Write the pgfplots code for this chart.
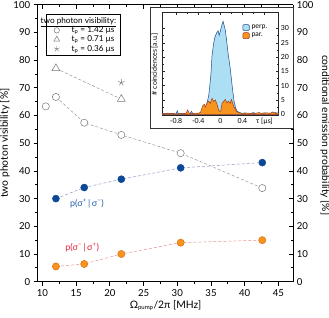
\documentclass[border=0pt]{standalone}
\usepackage{fontspec}
\setmainfont{Lato}
\usepackage{pgfplots}
\pgfplotsset{compat=1.18}
\definecolor{visgray}{RGB}{120,120,120}
\definecolor{visline}{RGB}{150,150,150}
\definecolor{dkblue}{RGB}{12,72,150}
\definecolor{blueline}{RGB}{140,150,200}
\definecolor{orng}{RGB}{247,148,30}
\definecolor{orngdark}{RGB}{225,110,20}
\definecolor{orngline}{RGB}{235,140,140}
\definecolor{lblue}{RGB}{172,222,244}
\definecolor{lblueline}{RGB}{30,75,135}
\definecolor{parline}{RGB}{160,60,30}
\definecolor{redlbl}{RGB}{222,35,60}
\definecolor{bluelbl}{RGB}{35,95,170}

\pgfplotstableread{
x y
10.5 63.3
}\visA
\pgfplotstableread{
x y
12.0 66.7
16.2 57.4
21.7 53.0
30.5 46.4
42.6 33.8
}\visB
\pgfplotstableread{
x y
12.0 77.0
21.7 65.9
}\visC
\pgfplotstableread{
x y
21.7 71.9
}\visD
\pgfplotstableread{
x y
12.0 30.0
16.2 34.0
21.7 37.0
30.5 41.1
42.6 43.0
}\pblue
\pgfplotstableread{
x y
12.0 5.5
16.2 6.4
21.7 10.0
30.5 14.1
42.6 15.0
}\porange

\pgfplotstableread{
t c
-1.05 0.3
-1.00 0.2
-0.95 0.4
-0.90 0.2
-0.85 0.3
-0.80 0.1
-0.78 1.2
-0.76 0.2
-0.70 0.3
-0.65 0.2
-0.60 0.4
-0.55 0.2
-0.52 1.0
-0.50 0.3
-0.45 0.2
-0.40 0.4
-0.35 0.5
-0.30 0.9
-0.27 1.7
-0.24 4.0
-0.21 6.5
-0.19 10.0
-0.17 14.0
-0.15 20.5
-0.12 24.8
-0.10 26.8
-0.07 28.3
-0.04 29.2
-0.02 27.6
0.00 29.0
0.02 30.6
0.05 32.5
0.07 31.0
0.09 29.5
0.11 26.5
0.14 21.5
0.18 16.0
0.22 9.0
0.25 4.5
0.28 2.0
0.31 1.0
0.35 0.6
0.40 0.3
0.45 0.5
0.50 0.2
0.55 0.3
0.60 0.6
0.65 0.2
0.70 0.4
0.75 0.3
0.80 0.5
0.85 0.2
0.90 0.4
0.95 0.3
1.00 0.6
1.05 0.3
}\perpdata
\pgfplotstableread{
t c
-1.05 0.2
-0.90 0.3
-0.80 0.1
-0.70 0.2
-0.62 0.3
-0.59 1.5
-0.56 0.3
-0.50 0.2
-0.45 0.4
-0.40 0.3
-0.36 0.6
-0.32 2.9
-0.29 3.5
-0.27 2.5
-0.24 4.0
-0.21 4.6
-0.18 3.8
-0.15 5.6
-0.12 4.5
-0.09 5.0
-0.06 3.5
-0.03 1.5
-0.01 1.0
0.01 1.2
0.03 3.8
0.06 4.5
0.09 5.2
0.12 4.0
0.15 4.6
0.18 3.8
0.20 5.2
0.22 4.2
0.24 2.9
0.27 1.8
0.29 1.1
0.33 0.5
0.40 0.3
0.50 0.4
0.60 0.2
0.70 0.6
0.75 0.3
0.85 0.5
0.90 0.3
0.95 0.8
1.00 0.3
1.05 0.4
}\pardata

\begin{document}
\begin{tikzpicture}
\useasboundingbox (-37.7pt,-35.3pt) rectangle (291.3pt,281.7pt);
\pgfplotsset{
  mainstyle/.style={
    scale only axis, width=255.6pt, height=277pt,
    xmin=9.3, xmax=47.2, ymin=0, ymax=100,
    xtick={10,15,...,45}, ytick={0,10,...,100},
    minor x tick num=1, minor y tick num=1,
    major tick length=4pt, minor tick length=2.2pt,
    axis line style={line width=0.9pt},
    every tick/.style={black, line width=0.8pt},
    ticklabel style={font=\fontsize{9.6}{10}\selectfont},
    label style={font=\fontsize{10.3}{11}\selectfont},
    /pgf/number format/assume math mode=true,
  }
}
\begin{axis}[mainstyle,
  axis x line*=bottom, axis y line*=left, tick align=outside,
  xlabel={Ω\textsubscript{\fontsize{6}{6}\selectfont pump}/2π [MHz]},
  ylabel={two photon visibility [\%]},
  xlabel style={yshift=3pt}, ylabel style={yshift=-3pt},
  legend style={at={(rel axis cs:0.032,0.965)}, anchor=north west,
    draw=black, line width=0.7pt, font=\fontsize{8.2}{9}\selectfont,
    inner xsep=2pt, inner ysep=0.5pt, row sep=-2.2pt},
  legend cell align=left,
]
\addlegendimage{empty legend}
\addlegendentry{\hspace*{-21pt}\underline{two photon visibility:}}
\addlegendimage{only marks, mark=o, mark size=2.7pt, visgray, mark options={line width=0.5pt}}
\addlegendentry{\hspace*{10pt}t\textsubscript{p} = 1.42 µs}
\addlegendimage{only marks, mark=triangle, mark size=3.4pt, visgray, mark options={line width=0.5pt}}
\addlegendentry{\hspace*{10pt}t\textsubscript{p} = 0.71 µs}
\addlegendimage{only marks, mark=star, mark size=2.9pt, visgray, mark options={line width=0.45pt}}
\addlegendentry{\hspace*{10pt}t\textsubscript{p} = 0.36 µs}

\addplot[forget plot, visline, densely dashed, line width=0.5pt, mark=*, mark size=3.6pt,
  mark options={solid, fill=white, draw=visgray, line width=0.5pt}] table {\visB};
\addplot[forget plot, only marks, mark=*, mark size=3.6pt,
  mark options={fill=white, draw=visgray, line width=0.5pt}] table {\visA};
\addplot[forget plot, visline, densely dashed, line width=0.5pt, mark=triangle*, mark size=4.6pt,
  mark options={solid, fill=white, draw=visgray, line width=0.5pt}] table {\visC};
\addplot[forget plot, only marks, mark=star, mark size=3.4pt,
  mark options={draw=visgray, line width=0.5pt}] table {\visD};
\addplot[forget plot, blueline, densely dashed, line width=0.5pt, mark=*, mark size=3.5pt,
  mark options={solid, fill=dkblue, draw=dkblue}] table {\pblue};
\addplot[forget plot, orngline, densely dashed, line width=0.5pt, mark=*, mark size=3.6pt,
  mark options={solid, fill=orng, draw=orngdark, line width=0.5pt}] table {\porange};
\node[bluelbl, font=\fontsize{9}{10}\selectfont] at (axis cs:16.6,28.2) {p(σ\textsuperscript{+}\,|\,σ\textsuperscript{−})};
\node[redlbl, font=\fontsize{9}{10}\selectfont] at (axis cs:15.9,12.2) {p(σ\textsuperscript{−}\,|\,σ\textsuperscript{+})};
\end{axis}

\begin{axis}[mainstyle,
  axis x line*=top, axis y line*=right, tick align=inside,
  xticklabels={},
  ylabel={conditional emission probability [\%]},
  ylabel style={rotate=180, xshift=-8pt},
]
\addplot[draw=none] coordinates {(20,50)};
\end{axis}

\fill[white] (112.3pt,153.7pt) rectangle (255.6pt,274.0pt);
\draw[black!80, line width=0.6pt] (112.3pt,153.7pt) rectangle (255.6pt,274.0pt);

\begin{axis}[at={(124.6pt,166pt)}, anchor=south west,
  scale only axis, width=116pt, height=103pt,
  xmin=-1.05, xmax=1.05, ymin=-0.5, ymax=35.5,
  clip=false,
  axis line style={line width=0.5pt, black!85},
  tick align=inside,
  major tick length=2.5pt, minor tick length=1.5pt,
  every tick/.style={black!85, line width=0.4pt},
  xtick={-0.8,-0.4,0,0.4,0.8},
  xticklabels={-0.8,-0.4,0,0.4,{τ [µs]}},
  minor x tick num=1,
  ytick={0,5,...,30}, minor y tick num=1,
  yticklabel pos=right,
  ticklabel style={font=\fontsize{7}{8}\selectfont},
  xticklabel style={yshift=1pt},
  yticklabel style={xshift=-1pt},
  /pgf/number format/assume math mode=true,
  legend style={at={(axis description cs:0.69,0.90)}, anchor=north west,
    draw=none, fill=none, font=\fontsize{7}{8}\selectfont,
    inner xsep=0pt, inner ysep=0pt, row sep=-1pt},
  legend cell align=left,
  legend image code/.code={\draw[#1, rounded corners=1.2pt] (0pt,-2.8pt) rectangle (6.5pt,3.2pt);},
]
\addplot[fill=lblue, draw=lblueline, line width=0.5pt] table {\perpdata} \closedcycle;
\addlegendentry{perp.}
\addplot[fill=orng, draw=parline, line width=0.5pt] table {\pardata} \closedcycle;
\addlegendentry{par.}
\node[rotate=90, font=\fontsize{7}{8}\selectfont] at (axis description cs:-0.065,0.5) {\# coincidences [a.u.]};
\end{axis}
\end{tikzpicture}
\end{document}
